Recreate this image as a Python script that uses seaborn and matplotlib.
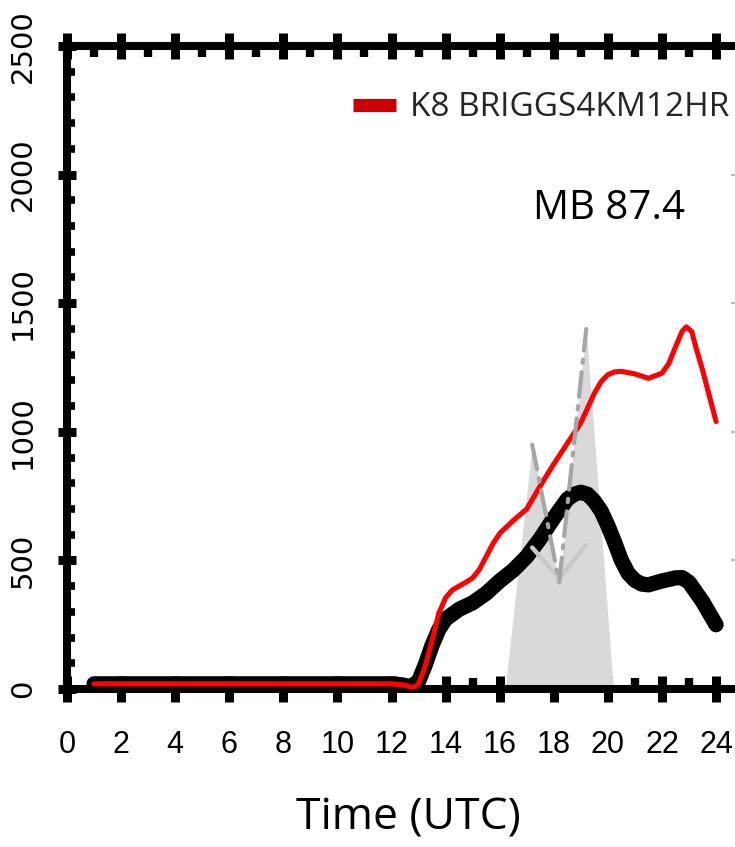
import matplotlib
matplotlib.use("Agg")
import matplotlib.pyplot as plt
from matplotlib.ticker import AutoMinorLocator
from matplotlib.lines import Line2D
import seaborn as sns
import pandas as pd

# ---------------- data ----------------
obs_hours = [1, 2, 3, 4, 5, 6, 7, 8, 9, 10, 11, 12, 12.4, 12.7, 13, 13.25, 13.5, 13.75, 14,
             14.5, 15, 15.5, 16, 16.5, 17, 17.5, 18, 18.5, 18.75, 19, 19.25, 19.5, 19.75,
             20, 20.25, 20.5, 20.75, 21, 21.25, 21.5, 22, 22.5, 22.75, 23, 23.5, 24]
obs_values = [20, 20, 20, 20, 20, 20, 20, 20, 20, 20, 20, 20, 16, 8, 30, 95, 170, 232, 272,
              310, 335, 372, 420, 462, 515, 585, 665, 738, 757, 765, 757, 730, 692,
              635, 570, 500, 450, 422, 408, 405, 420, 432, 433, 415, 340, 250]

model_hours = [1, 2, 3, 4, 5, 6, 7, 8, 9, 10, 11, 12, 12.5, 12.8, 13, 13.25, 13.5, 13.75, 14,
               14.25, 14.5, 14.75, 15, 15.25, 15.5, 15.75, 16, 16.5, 17, 17.5, 18, 18.5, 19,
               19.5, 19.75, 20, 20.25, 20.5, 21, 21.5, 22, 22.25, 22.5, 22.75, 22.9, 23.1,
               23.25, 23.5, 23.75, 24]
model_values = [20, 20, 20, 20, 20, 20, 20, 20, 20, 20, 20, 20, 15, 3, 20, 90, 190, 295, 355,
                385, 400, 415, 432, 465, 515, 565, 605, 655, 700, 790, 875, 955, 1035,
                1150, 1195, 1222, 1233, 1235, 1225, 1208, 1228, 1265, 1330, 1392, 1408, 1390,
                1330, 1240, 1140, 1040]

range_hours = [16.2, 17.2, 18.2, 19.2, 20.2]
range_upper = [0, 950, 410, 1400, 0]

dashdot_hours = [17.2, 18.2, 19.2]
dashdot_values = [950, 415, 1400]

light_hours = [17.2, 18.2, 19.2]
light_values = [550, 430, 560]

legend_label = "K8 BRIGGS4KM12HR"
annotation = "MB 87.4"
x_label = "Time (UTC)"
x_ticks = list(range(0, 25, 2))
y_ticks = [0, 500, 1000, 1500, 2000, 2500]

# ---------------- figure ----------------
sns.set_theme(style="white")
plt.rcParams["font.family"] = ["DejaVu Sans"]

W, H = 735, 847
fig = plt.figure(figsize=(W / 100, H / 100), dpi=100)
ax = fig.add_axes([67 / W, 1 - 689 / H, 1 - 67 / W, (689 - 46) / H])

# shaded range
ax.fill_between(range_hours, 0, range_upper, color="#d9d9d9", linewidth=0, zorder=1)

obs_df = pd.DataFrame({"hour": obs_hours, "value": obs_values})
mod_df = pd.DataFrame({"hour": model_hours, "value": model_values})
dd_df = pd.DataFrame({"hour": dashdot_hours, "value": dashdot_values})
lt_df = pd.DataFrame({"hour": light_hours, "value": light_values})

sns.lineplot(data=obs_df, x="hour", y="value", ax=ax, color="black", linewidth=11,
             sort=False, zorder=3)
ax.lines[-1].set_solid_capstyle("round")
ax.lines[-1].set_solid_joinstyle("round")

sns.lineplot(data=mod_df, x="hour", y="value", ax=ax, color="#ff0000", linewidth=3.7,
             sort=False, zorder=4)
ax.lines[-1].set_solid_capstyle("round")
ax.lines[-1].set_solid_joinstyle("round")

sns.lineplot(data=lt_df, x="hour", y="value", ax=ax, color="#c8c8c8", linewidth=3.2,
             sort=False, zorder=5)
ax.lines[-1].set_solid_capstyle("round")

sns.lineplot(data=dd_df, x="hour", y="value", ax=ax, color="#a6a6a6", linewidth=3,
             sort=False, zorder=6)
ax.lines[-1].set_dashes((6, 2.2, 0.8, 2.2))
ax.lines[-1].set_dash_capstyle("round")

ax.set_xlim(0, 24.70)
ax.set_ylim(0, 2500)

# spines
for side in ["left", "top", "bottom"]:
    ax.spines[side].set_linewidth(5.8)
    ax.spines[side].set_color("black")
ax.spines["right"].set_visible(False)

ax.set_xticks(x_ticks)
ax.set_xticklabels([str(t) for t in x_ticks])
ax.xaxis.set_minor_locator(AutoMinorLocator(2))
ax.set_yticks(y_ticks)
ax.set_yticklabels([str(t) for t in y_ticks], rotation=90, va="center")
ax.yaxis.set_minor_locator(AutoMinorLocator(5))

ax.tick_params(axis="x", which="major", direction="inout", length=19, width=6.5,
               color="black", top=True, bottom=True, pad=20)
ax.tick_params(axis="x", which="minor", direction="in", length=8, width=6,
               color="black", top=True, bottom=True)
ax.tick_params(axis="y", which="major", direction="inout", length=13, width=6.5,
               color="black", left=True, right=False, pad=15)
ax.tick_params(axis="y", which="minor", direction="in", length=5.5, width=5.5,
               color="black", left=True, right=False)

for lab in ax.get_xticklabels():
    lab.set_family(["Liberation Sans", "DejaVu Sans"])
    lab.set_fontsize(22)
    lab.set_color("black")
for lab in ax.get_yticklabels():
    lab.set_family(["DejaVu Sans"])
    lab.set_fontsize(21)
    lab.set_color("black")

# faint right-hand tick marks (cut-off neighbouring axis)
ax2 = ax.twinx()
ax2.set_ylim(0, 2500)
ax2.set_yticks(y_ticks[1:-1])
ax2.tick_params(axis="y", which="major", direction="in", length=3, width=1.6,
                color="#bfbfbf", right=True, labelright=False)
for s in ax2.spines.values():
    s.set_visible(False)
ax2.grid(False)
ax.grid(False)
ax.set_xlabel("")
ax.set_ylabel("")

# legend
handle = Line2D([], [], color="#cc0000", linewidth=9.5, solid_capstyle="butt")
fig.legend(handles=[handle], labels=[legend_label], loc="center right",
           bbox_to_anchor=(729 / W, 1 - 108 / H), bbox_transform=fig.transFigure,
           frameon=False, borderpad=0, borderaxespad=0, handlelength=1.3,
           handletextpad=0.4, prop={"family": "Open Sans", "size": 24})

fig.text(609 / W, 1 - 209 / H, annotation, ha="center", va="center",
         family="Open Sans", fontsize=29, color="black")
fig.text(408 / W, 1 - 818 / H, x_label, ha="center", va="center",
         family="Open Sans", fontsize=32, color="black")

fig.savefig("out.png", dpi=100)
